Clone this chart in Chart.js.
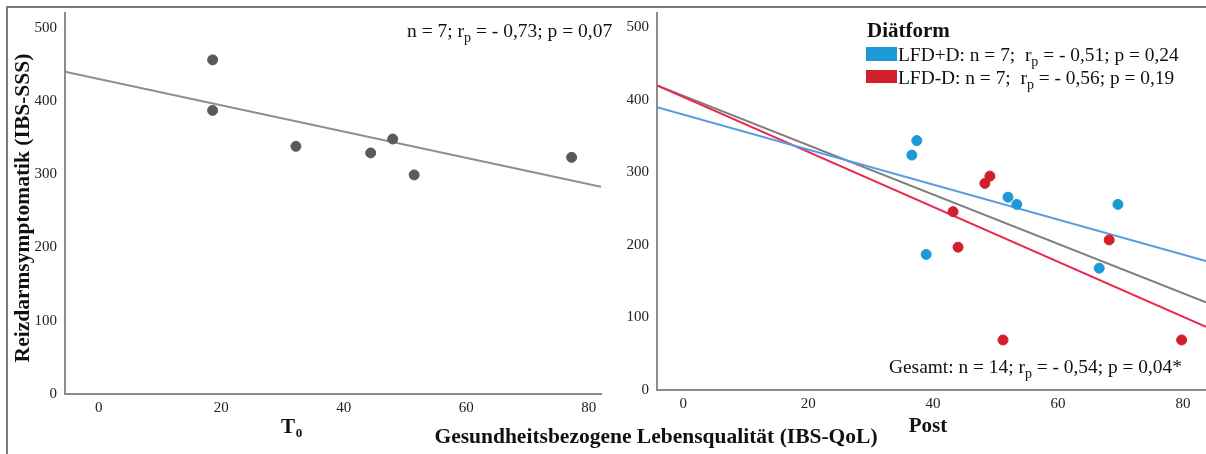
<!DOCTYPE html>
<html>
<head>
<meta charset="utf-8">
<script src="https://cdn.jsdelivr.net/npm/chart.js@4.4.0/dist/chart.umd.min.js"></script>
<style>
body { margin: 0; background: #fff; }
#wrap { position: relative; width: 1206px; height: 454px; overflow: hidden; font-family: "Liberation Serif", "Times New Roman", serif; }
#frame { position: absolute; left: 6px; top: 6px; width: 1300px; height: 500px; border-left: 2px solid #7a7a7a; border-top: 2px solid #7a7a7a; }
#c1 { position: absolute; left: 0; top: 0; }
#c2 { position: absolute; left: 620px; top: 0; }
#xtitle { position: absolute; left: 0; width: 1312px; top: 424px; text-align: center; font-weight: bold; font-size: 21.5px; color: #111; }
</style>
</head>
<body>
<div id="wrap">
  <div id="frame"></div>
  <canvas id="c1" width="620" height="454"></canvas>
  <canvas id="c2" width="586" height="454"></canvas>
  <div id="xtitle">Gesundheitsbezogene Lebensqualität (IBS-QoL)</div>
</div>
<script>
// T0 panel
var t0Qol = [18.6, 18.6, 32.2, 44.4, 48.0, 51.5, 77.2];
var t0Sss = [456, 387, 338, 329, 348, 299, 323];
var t0FitX = [-5.5, 82];
var t0FitY = [440, 283];

// Post panel, by diet
var lfdPlusQol = [36.6, 37.4, 38.9, 52.0, 53.4, 66.6, 69.6];
var lfdPlusSss = [324, 344, 187, 266, 256, 168, 256];
var lfdMinusQol = [43.2, 44.0, 48.3, 49.1, 51.2, 68.2, 79.8];
var lfdMinusSss = [246, 197, 285, 295, 69, 207, 69];
var postFitX = [-4.2, 83.7];
var fitTotalY = [420, 121];
var fitPlusY = [390, 178];
var fitMinusY = [420, 87];

var yMax = 520;
var xStep = 20, yStep = 100;

var serif = '"Liberation Serif", "Times New Roman", serif';
var gray = '#8c8c8c';
var blue = '#1b9ad6', red = '#d11f2b';
var blueLine = '#5a9be0', redLine = '#e8294f';

function pts(xs, ys) {
  var out = [];
  for (var i = 0; i < xs.length; i++) out.push({x: xs[i], y: ys[i]});
  return out;
}

function scales(xMin, xMax, yWidth, xHeight) {
  return {
    x: {
      type: 'linear', min: xMin, max: xMax,
      grid: {display: false, drawTicks: false},
      border: {color: gray, width: 2},
      ticks: {stepSize: xStep, includeBounds: false, color: '#222', padding: 5, maxRotation: 0,
              font: {family: serif, size: 15}},
      afterFit: function(s) { s.height = xHeight; s.paddingLeft = 0; s.paddingRight = 0; }
    },
    y: {
      type: 'linear', min: 0, max: yMax,
      grid: {display: false, drawTicks: false},
      border: {color: gray, width: 2},
      ticks: {stepSize: yStep, includeBounds: false, color: '#222', padding: 8,
              font: {family: serif, size: 15}},
      afterFit: function(s) { s.width = yWidth; s.paddingTop = 0; s.paddingBottom = 0; }
    }
  };
}

// text with a subscript piece: parts alternate normal / sub
function drawParts(ctx, x, y, parts, size) {
  for (var i = 0; i < parts.length; i++) {
    var sub = i % 2 === 1;
    ctx.font = (sub ? Math.round(size * 0.72) : size) + 'px ' + serif;
    ctx.fillText(parts[i], x, sub ? y + 5 : y);
    x += ctx.measureText(parts[i]).width;
  }
}

var leftText = {
  id: 'leftText',
  afterDraw: function(chart) {
    var ctx = chart.ctx;
    ctx.save();
    ctx.fillStyle = '#111';
    ctx.textBaseline = 'alphabetic';
    ctx.textAlign = 'left';
    drawParts(ctx, 407, 37, ['n = 7; r', 'p', ' = - 0,73; p = 0,07'], 19.5);
    ctx.font = 'bold 21px ' + serif;
    ctx.textAlign = 'center';
    ctx.fillText('T', 288, 433);
    ctx.font = 'bold 13px ' + serif;
    ctx.fillText('0', 299, 437);
    ctx.translate(23, 208);
    ctx.rotate(-Math.PI / 2);
    ctx.font = 'bold 21.5px ' + serif;
    ctx.textBaseline = 'middle';
    ctx.fillText('Reizdarmsymptomatik (IBS-SSS)', 0, 0);
    ctx.restore();
  }
};

var rightText = {
  id: 'rightText',
  afterDraw: function(chart) {
    var ctx = chart.ctx;
    var ox = 620;
    ctx.save();
    ctx.fillStyle = '#111';
    ctx.textAlign = 'left';
    ctx.textBaseline = 'alphabetic';
    ctx.font = 'bold 21px ' + serif;
    ctx.fillText('Diätform', 867 - ox, 37);
    ctx.fillStyle = blue;
    ctx.fillRect(866 - ox, 47, 31, 14);
    ctx.fillStyle = red;
    ctx.fillRect(866 - ox, 70, 31, 13);
    ctx.fillStyle = '#111';
    drawParts(ctx, 898 - ox, 61, ['LFD+D: n = 7;  r', 'p', ' = - 0,51; p = 0,24'], 19.4);
    drawParts(ctx, 898 - ox, 84, ['LFD-D: n = 7;  r', 'p', ' = - 0,56; p = 0,19'], 19.4);
    drawParts(ctx, 889 - ox, 373, ['Gesamt: n = 14; r', 'p', ' = - 0,54; p = 0,04*'], 19.4);
    ctx.font = 'bold 21px ' + serif;
    ctx.textAlign = 'center';
    ctx.fillText('Post', 928 - ox, 432);
    ctx.restore();
  }
};

new Chart(document.getElementById('c1'), {
  type: 'scatter',
  data: {
    datasets: [
      {data: pts(t0Qol, t0Sss), backgroundColor: '#5a5a5a', borderColor: '#5a5a5a', pointRadius: 5, order: 0},
      {data: pts(t0FitX, t0FitY), showLine: true, borderColor: '#8e8e8e', borderWidth: 2, pointRadius: 0, order: 1}
    ]
  },
  options: {
    responsive: false, animation: false, devicePixelRatio: 1,
    layout: {autoPadding: false, padding: {top: 13, right: 19, left: 0, bottom: 0}},
    plugins: {legend: {display: false}, tooltip: {enabled: false}},
    scales: scales(t0FitX[0], t0FitX[1], 65, 60)
  },
  plugins: [leftText]
});

new Chart(document.getElementById('c2'), {
  type: 'scatter',
  data: {
    datasets: [
      {data: pts(lfdPlusQol, lfdPlusSss), backgroundColor: blue, borderColor: blue, pointRadius: 5, order: 0},
      {data: pts(lfdMinusQol, lfdMinusSss), backgroundColor: red, borderColor: red, pointRadius: 5, order: 0},
      {data: pts(postFitX, fitPlusY), showLine: true, borderColor: blueLine, borderWidth: 2, pointRadius: 0, order: 1},
      {data: pts(postFitX, fitMinusY), showLine: true, borderColor: redLine, borderWidth: 2, pointRadius: 0, order: 1},
      {data: pts(postFitX, fitTotalY), showLine: true, borderColor: '#7e7e7e', borderWidth: 2, pointRadius: 0, order: 1}
    ]
  },
  options: {
    responsive: false, animation: false, devicePixelRatio: 1,
    layout: {autoPadding: false, padding: {top: 13, right: 0, left: 0, bottom: 0}},
    plugins: {legend: {display: false}, tooltip: {enabled: false}},
    scales: scales(postFitX[0], postFitX[1], 37, 64)
  },
  plugins: [rightText]
});
</script>
</body>
</html>
